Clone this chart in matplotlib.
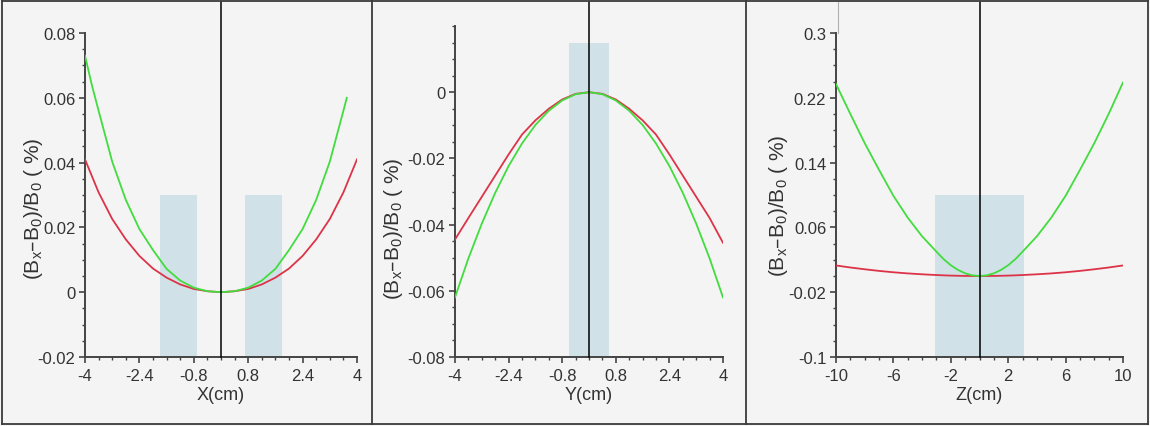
import matplotlib
matplotlib.use("Agg")
import matplotlib.pyplot as plt
from matplotlib.lines import Line2D
from matplotlib.ticker import FixedLocator, MultipleLocator

plt.rcParams['font.family'] = ['Liberation Sans', 'DejaVu Sans']
plt.rcParams['mathtext.default'] = 'regular'

# ---- field deviation along X ----
x_pos = [-4.0, -3.6, -3.2, -2.8, -2.4, -2.0, -1.6, -1.2, -0.8, -0.4, 0.0,
         0.4, 0.8, 1.2, 1.6, 2.0, 2.4, 2.8, 3.2, 3.6, 4.0]
x_red = [0.041, 0.0308, 0.0226, 0.0163, 0.0112, 0.0073, 0.0045, 0.0024, 0.0010, 0.0003, 0.0,
         0.0003, 0.0010, 0.0024, 0.0045, 0.0073, 0.0112, 0.0163, 0.0226, 0.0308, 0.041]
x_pos_g = [-4.0, -3.8, -3.6, -3.2, -2.8, -2.4, -2.0, -1.6, -1.2, -0.8, -0.4, 0.0,
           0.4, 0.8, 1.2, 1.6, 2.0, 2.4, 2.8, 3.2, 3.6, 3.7]
x_green = [0.073, 0.064, 0.056, 0.0403, 0.0285, 0.0195, 0.0130, 0.0072, 0.0036, 0.0014, 0.0003, 0.0,
           0.0003, 0.0014, 0.0036, 0.0072, 0.0130, 0.0195, 0.0285, 0.0403, 0.056, 0.060]

# ---- field deviation along Y ----
y_pos = [-4.0, -3.6, -3.2, -2.8, -2.4, -2.0, -1.6, -1.2, -0.8, -0.4, 0.0,
         0.4, 0.8, 1.2, 1.6, 2.0, 2.4, 2.8, 3.2, 3.6, 4.0]
y_red = [-0.0445, -0.0380, -0.0316, -0.0252, -0.0188, -0.0128, -0.0085, -0.0050, -0.0022, -0.0005, 0.0,
         -0.0005, -0.0022, -0.0050, -0.0085, -0.0128, -0.0188, -0.0252, -0.0316, -0.0380, -0.0455]
y_green = [-0.062, -0.0502, -0.0397, -0.0304, -0.0223, -0.0155, -0.0099, -0.0056, -0.0025, -0.0006, 0.0,
           -0.0006, -0.0025, -0.0056, -0.0099, -0.0155, -0.0223, -0.0304, -0.0397, -0.0502, -0.062]

# ---- field deviation along Z ----
z_pos = [-10, -9, -8, -7, -6, -5, -4, -3, -2.5, -2, -1.5, -1, -0.5, 0,
         0.5, 1, 1.5, 2, 2.5, 3, 4, 5, 6, 7, 8, 9, 10]
z_red = [0.013, 0.0105, 0.0083, 0.0063, 0.0046, 0.0032, 0.0021, 0.0012, 0.0008, 0.0005, 0.0003, 0.0001, 0.0, 0.0,
         0.0, 0.0001, 0.0003, 0.0005, 0.0008, 0.0012, 0.0021, 0.0032, 0.0046, 0.0063, 0.0083, 0.0105, 0.013]
z_green = [0.237, 0.200, 0.164, 0.131, 0.099, 0.072, 0.049, 0.030, 0.0208, 0.0133, 0.0075, 0.0033, 0.0008, 0.0,
           0.0008, 0.0033, 0.0075, 0.0133, 0.0208, 0.030, 0.049, 0.072, 0.099, 0.131, 0.164, 0.200, 0.239]

# shaded regions (x0, x1, y0, y1)
x_regions = [(-1.8, -0.7, -0.02, 0.03), (0.7, 1.8, -0.02, 0.03)]
y_regions = [(-0.6, 0.6, -0.08, 0.015)]
z_regions = [(-3.1, 3.1, -0.1, 0.1)]

x_ticks = [-4, -2.4, -0.8, 0.8, 2.4, 4]
x_ticklabels = ['-4', '-2.4', '-0.8', '0.8', '2.4', '4']
z_ticks = [-10, -6, -2, 2, 6, 10]
z_ticklabels = ['-10', '-6', '-2', '2', '6', '10']
x_yticks = [-0.02, 0, 0.02, 0.04, 0.06, 0.08]
x_yticklabels = ['-0.02', '0', '0.02', '0.04', '0.06', '0.08']
y_yticks = [-0.08, -0.06, -0.04, -0.02, 0]
y_yticklabels = ['-0.08', '-0.06', '-0.04', '-0.02', '0']
z_yticks = [-0.1, -0.02, 0.06, 0.14, 0.22, 0.3]
z_yticklabels = ['-0.1', '-0.02', '0.06', '0.14', '0.22', '0.3']

YLABEL = '(B$_x$\u2013B$_0$)/B$_0$ ( %)'

W, H = 1150, 427
BG = '#f4f4f4'
FRAME = '#3a3a3a'
AXC = '#444444'
TXT = '#333333'
RED = '#dd3348'
GREEN = '#42dc3e'
SHADE = '#d0e1e7'
FS = 12

fig = plt.figure(figsize=(W / 100, H / 100), dpi=100, facecolor=BG)


def px_axes(l, r, t, b):
    return fig.add_axes([l / W, (H - b) / H, (r - l) / W, (b - t) / H])


def style(ax, xlim, ylim, xt, xtl, yt, ytl, xminor, yminor, xlabel, lab_xy):
    ax.set_facecolor('none')
    ax.set_xlim(*xlim)
    ax.set_ylim(*ylim)
    for s in ('top', 'right'):
        ax.spines[s].set_visible(False)
    for s in ('left', 'bottom'):
        ax.spines[s].set_color(AXC)
        ax.spines[s].set_linewidth(1.4)
    ax.xaxis.set_major_locator(FixedLocator(xt))
    ax.set_xticklabels(xtl)
    ax.yaxis.set_major_locator(FixedLocator(yt))
    ax.set_yticklabels(ytl)
    ax.xaxis.set_minor_locator(MultipleLocator(xminor))
    ax.yaxis.set_minor_locator(MultipleLocator(yminor))
    ax.tick_params(which='major', direction='out', length=4, width=1.2,
                   color=AXC, labelcolor=TXT, labelsize=FS)
    ax.tick_params(axis='x', which='major', pad=4)
    ax.tick_params(axis='y', which='major', pad=3)
    ax.tick_params(which='minor', direction='out', length=2, width=1.0, color=AXC)
    ax.set_xlabel(xlabel, fontsize=13, color=TXT, labelpad=2)
    ax.set_ylabel(YLABEL, fontsize=15, color=TXT, va='center')
    ax.yaxis.set_label_coords(*lab_xy)


def draw(ax, regions, xs_r, ys_r, xs_g, ys_g, top_px, bottom_px):
    for x0, x1, y0, y1 in regions:
        ax.fill_between([x0, x1], y0, y1, color=SHADE, lw=0, zorder=1)
    ax.plot(xs_r, ys_r, color=RED, lw=1.3, zorder=3)
    ax.plot(xs_g, ys_g, color=GREEN, lw=1.3, zorder=3)
    ymax = (bottom_px - 3) / (bottom_px - top_px)
    ax.axvline(0, 0, ymax, color='black', lw=1.1, clip_on=False, zorder=4)


ax1 = px_axes(85, 357, 34, 358)
style(ax1, (-4, 4), (-0.02, 0.08), x_ticks, x_ticklabels, x_yticks, x_yticklabels,
      0.4, 0.005, 'X(cm)', (-0.191, 0.46))
draw(ax1, x_regions, x_pos, x_red, x_pos_g, x_green, 34, 358)

ax2 = px_axes(455, 723, 27, 358)
style(ax2, (-4, 4), (-0.08, 0.02), x_ticks, x_ticklabels, y_yticks, y_yticklabels,
      0.4, 0.005, 'Y(cm)', (-0.231, 0.39))
draw(ax2, y_regions, y_pos, y_red, y_pos, y_green, 27, 358)

ax3 = px_axes(836, 1123, 34, 358)
style(ax3, (-10, 10), (-0.1, 0.3), z_ticks, z_ticklabels, z_yticks, z_yticklabels,
      1, 0.02, 'Z(cm)', (-0.202, 0.47))
draw(ax3, z_regions, z_pos, z_red, z_pos, z_green, 34, 358)

# faint guide above the Z axis
fig.add_artist(Line2D([838 / W, 838 / W], [(H - 3) / H, (H - 34) / H],
                      color='#b0b0b0', lw=0.8))


# panel frames
def hline(y, x0, x1):
    fig.add_artist(Line2D([x0 / W, x1 / W], [(H - y) / H, (H - y) / H], color=FRAME, lw=1.3))


def vline(x, y0, y1):
    fig.add_artist(Line2D([x / W, x / W], [(H - y0) / H, (H - y1) / H], color=FRAME, lw=1.3))


hline(2, 2, 1148)
hline(425, 2, 1148)
for xv in (2, 372, 746, 1148):
    vline(xv, 2, 425)

fig.savefig('out.png', dpi=100, facecolor=BG)
